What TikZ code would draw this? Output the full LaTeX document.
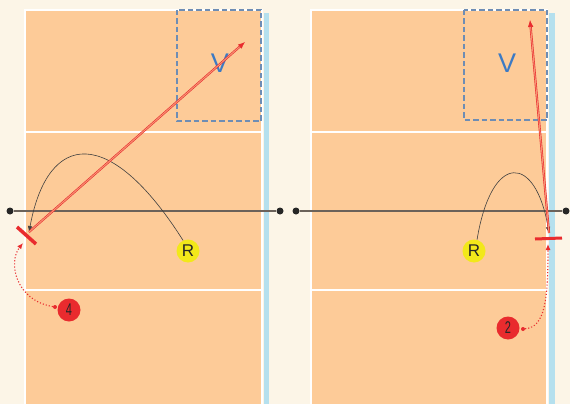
\documentclass[tikz,border=0pt]{standalone}
\usepackage{fontspec}
\setsansfont{Liberation Sans}
\usetikzlibrary{arrows.meta, positioning}
\definecolor{cream}{HTML}{FCF5E7}
\definecolor{courtorange}{HTML}{FDCB98}
\definecolor{sideblue}{HTML}{B5E0EE}
\definecolor{zoneblue}{HTML}{6E8DB4}
\definecolor{letterblue}{HTML}{3C7AC4}
\definecolor{hitred}{HTML}{E92B2E}
\definecolor{ballyellow}{HTML}{F2E81A}
\definecolor{netgray}{HTML}{6B625A}

\begin{document}
\begin{tikzpicture}[
    x=1pt, y=-1pt,
    court/.style = {fill=courtorange, draw=white, line width=1.6pt},
    courtline/.style = {draw=white, line width=2pt},
    strip/.style = {fill=sideblue, draw=none},
    zone/.style = {draw=zoneblue, line width=1.3pt, dash pattern=on 5.5pt off 3pt},
    zoneletter/.style = {text=letterblue, font=\sffamily\fontsize{27}{27}\selectfont, inner sep=0pt},
    netdot/.style = {circle, fill=black!85, inner sep=0pt, minimum size=7pt},
    net/.style = {draw=netgray, line width=2.6pt},
    hitter/.style = {circle, fill=ballyellow, inner sep=0pt, minimum size=23pt, font=\sffamily\fontsize{17}{17}\selectfont, text=black!85},
    player/.style = {circle, fill=hitred, inner sep=0pt, minimum size=23pt, font=\sffamily\fontsize{17}{17}\selectfont, text=black!85},
    startdot/.style = {circle, fill=hitred, inner sep=0pt, minimum size=4pt},
    pass/.style = {draw=black!75, line width=0.6pt, -{Latex[length=6pt, width=4.5pt]}},
    attack/.style = {draw=hitred, double=hitred!35!courtorange, double distance=1pt, line width=0.6pt, -{Latex[length=7pt, width=5.5pt]}},
    move/.style = {draw=hitred, line width=1.1pt, dotted, -{Latex[length=6pt, width=5pt]}},
    block/.style = {draw=hitred, line width=3.5pt}
]
    \useasboundingbox[fill=cream] (0,0) rectangle (570,404);

    % Left court
    \fill[court] (25,10) rectangle (262,420);
    \draw[courtline] (25,132) -- (262,132);
    \draw[courtline] (25,290) -- (262,290);
    \fill[strip] (264,13) rectangle (269,404);
    \draw[zone] (177,10) rectangle (261,121);
    \node[zoneletter] (vL) at (220,63) {V};

    % Right court
    \fill[court] (311,10) rectangle (547,420);
    \draw[courtline] (311,132) -- (547,132);
    \draw[courtline] (311,290) -- (547,290);
    \fill[strip] (549,13) rectangle (555,404);
    \draw[zone] (464,10) rectangle (547,120);
    \node[zoneletter] (vR) at (507,63) {V};

    % Nets
    \node[netdot] (netL1) at (10,211) {};
    \node[netdot] (netL2) at (280,211) {};
    \node[netdot] (netR1) at (296,211) {};
    \node[netdot] (netR2) at (566,211) {};
    \draw[net] (netL1) -- (netL2);
    \draw[net] (netR1) -- (netR2);

    % Players
    \node[hitter] (rL) at (188,251) {R};
    \node[hitter] (rR) at (474,251) {R};
    \node[player] (p4) at (69,310) {\scalebox{0.65}[1]{4}};
    \node[player] (p2) at (508,328) {\scalebox{0.65}[1]{2}};
    \node[startdot] (p4dot) at (55,307) {};
    \node[startdot] (p2dot) at (523,329) {};

    % Points on the court
    \coordinate (setL) at (29,232);
    \coordinate (setR) at (549,233);
    \coordinate (aimL) at (245,42);
    \coordinate (aimR) at (530,20);
    \coordinate (moveL) at (23,243);
    \coordinate (moveR) at (548,244);
    \coordinate (barL1) at (17,227);
    \coordinate (barL2) at (36,244);
    \coordinate (barR1) at (535,239);
    \coordinate (barR2) at (562,238);

    % Passes
    \draw[pass] (rL.115) .. controls (110,125) and (48,130) .. (setL);
    \draw[pass] (rR.75) .. controls (492,150) and (536,155) .. (setR);

    % Attacks
    \draw[attack] (setL) -- (aimL);
    \draw[attack] (setR) -- (aimR);

    % Blockers
    \draw[block] (barL1) -- (barL2);
    \draw[block, line width=3pt] (barR1) -- (barR2);

    % Moves
    \draw[move] (p4dot) .. controls (15,300) and (8,262) .. (moveL);
    \draw[move] (p2dot) .. controls (545,327) and (548,300) .. (moveR);
\end{tikzpicture}
\end{document}
